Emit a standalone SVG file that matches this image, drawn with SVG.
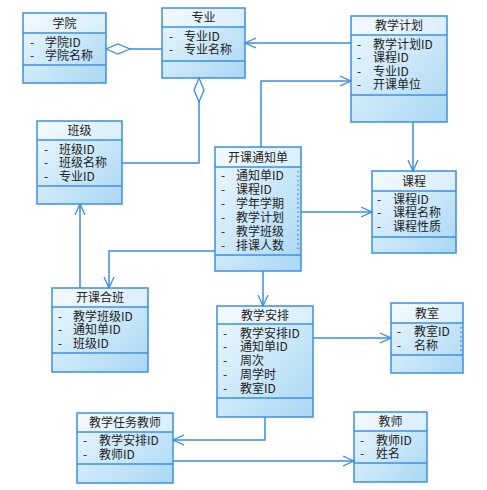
<svg xmlns="http://www.w3.org/2000/svg" width="487" height="490" viewBox="0 0 487 490">
<defs>
<linearGradient id="g" x1="0" y1="0" x2="1" y2="1">
<stop offset="0" stop-color="#eef8fe"/>
<stop offset="1" stop-color="#a9d7f3"/>
</linearGradient>
<marker id="arr" viewBox="0 0 12 12" refX="11" refY="6" markerWidth="12" markerHeight="12" markerUnits="userSpaceOnUse" orient="auto">
<path d="M0,1 L11,6 L0,11" fill="none" stroke="#3a8be6" stroke-width="1.3"/>
</marker>
<marker id="dia" viewBox="0 0 26 12" refX="25" refY="6" markerWidth="26" markerHeight="12" markerUnits="userSpaceOnUse" orient="auto">
<path d="M1,6 L13,1 L25,6 L13,11 Z" fill="#ffffff" stroke="#3a8be6" stroke-width="1.3"/>
</marker>
</defs>
<style>
.box{fill:url(#g);stroke:#3d8fe3;stroke-width:1.5}
.hdr{fill:#ffffff;fill-opacity:0.35}
.sep{stroke:#3d8fe3;stroke-width:1.3}
text{font-family:"Noto Sans CJK SC","Noto Sans",sans-serif;font-size:12px;fill:#222}
.t{text-anchor:middle}
.c{fill:none;stroke:#3a8be6;stroke-width:1.5}
.dots{stroke:#5a6f86;stroke-width:1.2;stroke-dasharray:1.5,3}
</style>

<g id="xueyuan">
<rect class="box" x="23" y="13" width="83" height="70"/>
<rect class="hdr" x="24" y="14" width="81" height="19"/>
<line class="sep" x1="23" y1="33" x2="106" y2="33"/>
<line class="sep" x1="23" y1="65" x2="106" y2="65"/>
<text class="t" x="64.5" y="27.5">学院</text>
<text y="46.5"><tspan x="30">-</tspan><tspan x="45">学院ID</tspan><tspan x="30" dy="13">-</tspan><tspan x="45">学院名称</tspan></text>
</g>

<g id="zhuanye">
<rect class="box" x="162" y="8" width="83" height="70"/>
<rect class="hdr" x="163" y="9" width="81" height="18"/>
<line class="sep" x1="162" y1="27" x2="245" y2="27"/>
<line class="sep" x1="162" y1="61" x2="245" y2="61"/>
<text class="t" x="203.5" y="22">专业</text>
<text y="41"><tspan x="169">-</tspan><tspan x="184">专业ID</tspan><tspan x="169" dy="13">-</tspan><tspan x="184">专业名称</tspan></text>
</g>

<g id="jiaoxuejihua">
<rect class="box" x="351" y="16" width="96" height="106"/>
<rect class="hdr" x="352" y="17" width="94" height="18"/>
<line class="sep" x1="351" y1="35" x2="447" y2="35"/>
<line class="sep" x1="351" y1="95" x2="447" y2="95"/>
<text class="t" x="399" y="30">教学计划</text>
<text y="48.5"><tspan x="357">-</tspan><tspan x="373">教学计划ID</tspan><tspan x="357" dy="13.5">-</tspan><tspan x="373">课程ID</tspan><tspan x="357" dy="13.5">-</tspan><tspan x="373">专业ID</tspan><tspan x="357" dy="13.5">-</tspan><tspan x="373">开课单位</tspan></text>
</g>

<g id="banji">
<rect class="box" x="37" y="121" width="85" height="83"/>
<rect class="hdr" x="38" y="122" width="83" height="18"/>
<line class="sep" x1="37" y1="140" x2="122" y2="140"/>
<line class="sep" x1="37" y1="186" x2="122" y2="186"/>
<text class="t" x="79.5" y="135">班级</text>
<text y="153.5"><tspan x="44">-</tspan><tspan x="59">班级ID</tspan><tspan x="44" dy="13.5">-</tspan><tspan x="59">班级名称</tspan><tspan x="44" dy="13.5">-</tspan><tspan x="59">专业ID</tspan></text>
</g>

<g id="kaiketongzhidan">
<rect class="box" x="215" y="147" width="86" height="124"/>
<rect class="hdr" x="216" y="148" width="84" height="19"/>
<line class="sep" x1="215" y1="167" x2="301" y2="167"/>
<line class="sep" x1="215" y1="255" x2="301" y2="255"/>
<text class="t" x="258" y="162">开课通知单</text>
<text y="179.5"><tspan x="221">-</tspan><tspan x="236">通知单ID</tspan><tspan x="221" dy="14">-</tspan><tspan x="236">课程ID</tspan><tspan x="221" dy="14">-</tspan><tspan x="236">学年学期</tspan><tspan x="221" dy="14">-</tspan><tspan x="236">教学计划</tspan><tspan x="221" dy="14">-</tspan><tspan x="236">教学班级</tspan><tspan x="221" dy="14">-</tspan><tspan x="236">排课人数</tspan></text>
<line class="dots" x1="298" y1="171" x2="298" y2="252"/>
</g>

<g id="kecheng">
<rect class="box" x="372" y="171" width="84" height="82"/>
<rect class="hdr" x="373" y="172" width="82" height="19"/>
<line class="sep" x1="372" y1="191" x2="456" y2="191"/>
<line class="sep" x1="372" y1="237" x2="456" y2="237"/>
<text class="t" x="414" y="185.5">课程</text>
<text y="203.5"><tspan x="377">-</tspan><tspan x="393">课程ID</tspan><tspan x="377" dy="13.5">-</tspan><tspan x="393">课程名称</tspan><tspan x="377" dy="13.5">-</tspan><tspan x="393">课程性质</tspan></text>
</g>

<g id="kaikeheban">
<rect class="box" x="52" y="288" width="96" height="84"/>
<rect class="hdr" x="53" y="289" width="94" height="18"/>
<line class="sep" x1="52" y1="307" x2="148" y2="307"/>
<line class="sep" x1="52" y1="353" x2="148" y2="353"/>
<text class="t" x="100" y="302">开课合班</text>
<text y="320.5"><tspan x="58">-</tspan><tspan x="73">教学班级ID</tspan><tspan x="58" dy="13.5">-</tspan><tspan x="73">通知单ID</tspan><tspan x="58" dy="13.5">-</tspan><tspan x="73">班级ID</tspan></text>
</g>

<g id="jiaoxueanpai">
<rect class="box" x="217" y="306" width="96" height="111"/>
<rect class="hdr" x="218" y="307" width="94" height="17"/>
<line class="sep" x1="217" y1="324" x2="313" y2="324"/>
<line class="sep" x1="217" y1="398" x2="313" y2="398"/>
<text class="t" x="265" y="319.5">教学安排</text>
<text y="337.5"><tspan x="223">-</tspan><tspan x="240">教学安排ID</tspan><tspan x="223" dy="13.8">-</tspan><tspan x="240">通知单ID</tspan><tspan x="223" dy="13.8">-</tspan><tspan x="240">周次</tspan><tspan x="223" dy="13.8">-</tspan><tspan x="240">周学时</tspan><tspan x="223" dy="13.8">-</tspan><tspan x="240">教室ID</tspan></text>
</g>

<g id="jiaoshi_room">
<rect class="box" x="391" y="303" width="72" height="70"/>
<rect class="hdr" x="392" y="304" width="70" height="19"/>
<line class="sep" x1="391" y1="323" x2="463" y2="323"/>
<line class="sep" x1="391" y1="355" x2="463" y2="355"/>
<text class="t" x="427" y="318">教室</text>
<text y="336"><tspan x="397">-</tspan><tspan x="414">教室ID</tspan><tspan x="397" dy="13.5">-</tspan><tspan x="414">名称</tspan></text>
<line class="dots" x1="461" y1="327" x2="461" y2="352"/>
</g>

<g id="jiaoxuerenwujiaoshi">
<rect class="box" x="77" y="413" width="96" height="70"/>
<rect class="hdr" x="78" y="414" width="94" height="18"/>
<line class="sep" x1="77" y1="432" x2="173" y2="432"/>
<line class="sep" x1="77" y1="464" x2="173" y2="464"/>
<text class="t" x="125" y="427">教学任务教师</text>
<text y="445"><tspan x="83">-</tspan><tspan x="99">教学安排ID</tspan><tspan x="83" dy="13.5">-</tspan><tspan x="99">教师ID</tspan></text>
</g>

<g id="jiaoshi">
<rect class="box" x="354" y="412" width="73" height="70"/>
<rect class="hdr" x="355" y="413" width="71" height="18"/>
<line class="sep" x1="354" y1="431" x2="427" y2="431"/>
<line class="sep" x1="354" y1="463" x2="427" y2="463"/>
<text class="t" x="390.5" y="426">教师</text>
<text y="444.5"><tspan x="360">-</tspan><tspan x="376">教师ID</tspan><tspan x="360" dy="13.5">-</tspan><tspan x="376">姓名</tspan></text>
</g>

<g id="connectors">
<line class="c" x1="162" y1="49" x2="106" y2="49" marker-end="url(#dia)"/>
<polyline class="c" points="122,163 199,163 199,78" marker-end="url(#dia)"/>
<line class="c" x1="351" y1="43" x2="245" y2="43" marker-end="url(#arr)"/>
<polyline class="c" points="261,147 261,81 351,81" marker-end="url(#arr)"/>
<line class="c" x1="413" y1="122" x2="413" y2="171" marker-end="url(#arr)"/>
<line class="c" x1="301" y1="212" x2="372" y2="212" marker-end="url(#arr)"/>
<line class="c" x1="80" y1="288" x2="80" y2="204" marker-end="url(#arr)"/>
<polyline class="c" points="215,251 109,251 109,288" marker-end="url(#arr)"/>
<line class="c" x1="263" y1="271" x2="263" y2="306" marker-end="url(#arr)"/>
<line class="c" x1="313" y1="338" x2="391" y2="338" marker-end="url(#arr)"/>
<polyline class="c" points="265,417 265,440 173,440" marker-end="url(#arr)"/>
<line class="c" x1="173" y1="461" x2="354" y2="461" marker-end="url(#arr)"/>
</g>
</svg>
